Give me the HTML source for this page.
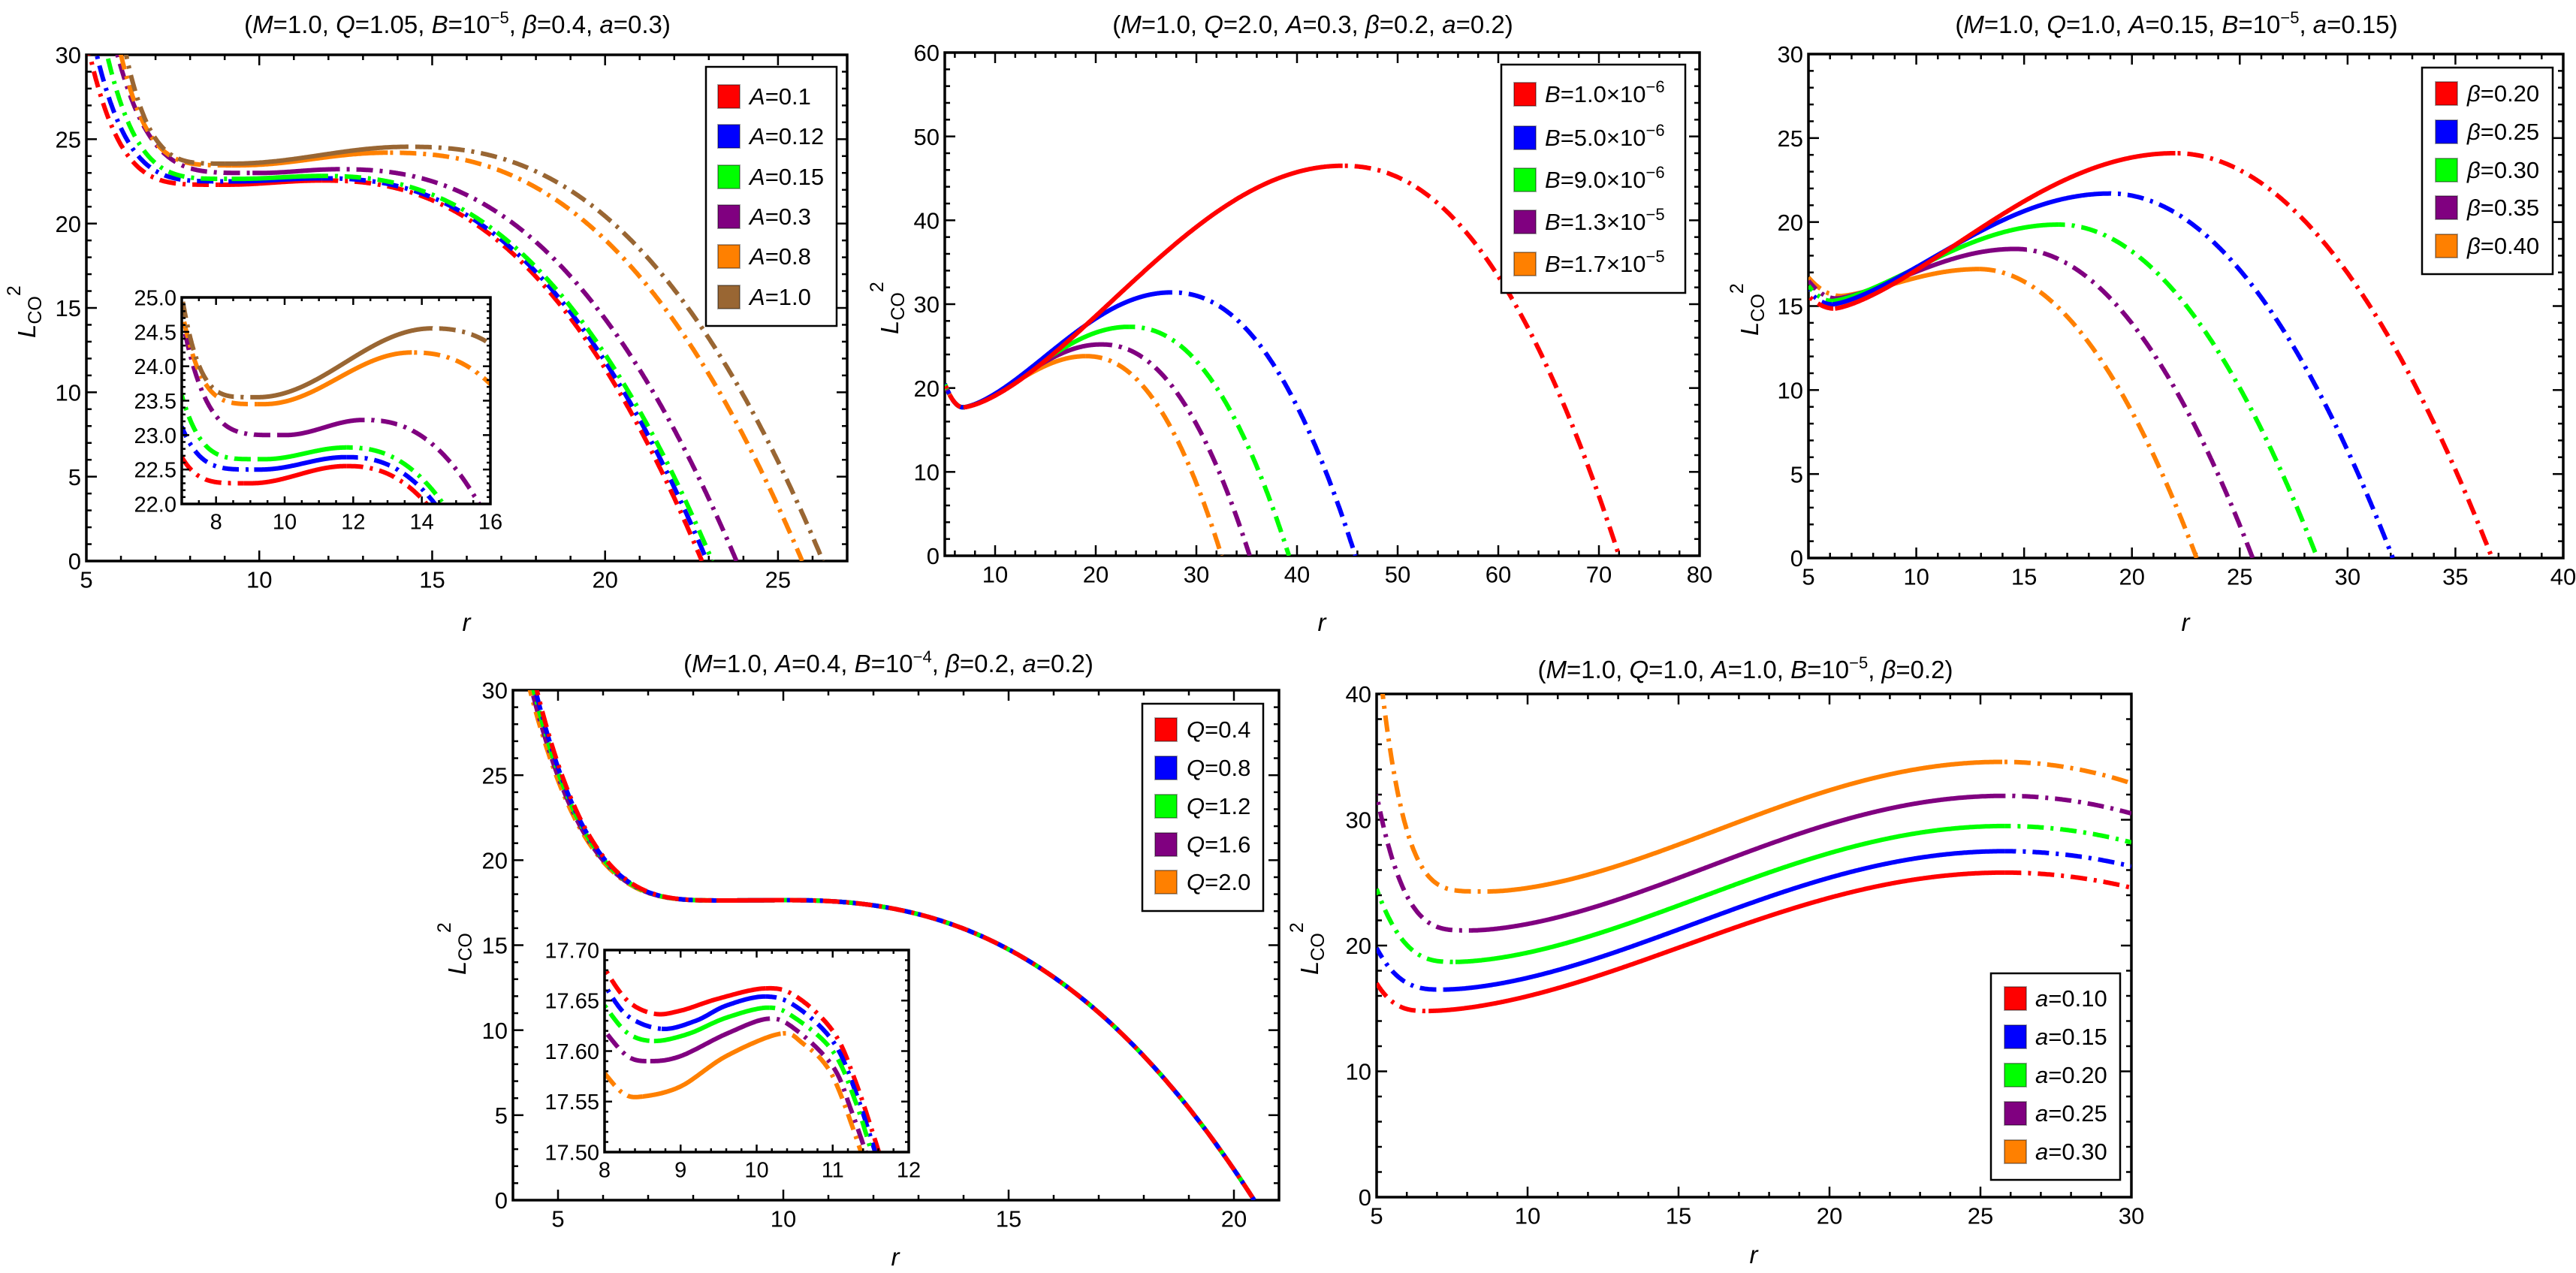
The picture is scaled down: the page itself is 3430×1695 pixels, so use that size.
<!DOCTYPE html>
<html><head><meta charset="utf-8">
<style>
html,body{margin:0;padding:0;background:#fff;}
svg{display:block;font-family:"Liberation Sans",sans-serif;}
.t{font-size:31px;}
.tt{font-size:33px;}
.lg{font-size:31px;}
.i{font-style:italic;}
</style></head>
<body>
<svg id="s" xmlns="http://www.w3.org/2000/svg" width="3430" height="1695" viewBox="0 0 3430 1695">
<rect width="3430" height="1695" fill="#fff"/>
<g id="plots"></g>
<!-- titles -->
<text class="tt" x="609" y="44" text-anchor="middle">(<tspan class="i">M</tspan>=1.0, <tspan class="i">Q</tspan>=1.05, <tspan class="i">B</tspan>=10<tspan dy="-13" font-size="22">−5</tspan><tspan dy="13">, </tspan><tspan class="i">β</tspan>=0.4, <tspan class="i">a</tspan>=0.3)</text>
<text class="tt" x="1748" y="44" text-anchor="middle">(<tspan class="i">M</tspan>=1.0, <tspan class="i">Q</tspan>=2.0, <tspan class="i">A</tspan>=0.3, <tspan class="i">β</tspan>=0.2, <tspan class="i">a</tspan>=0.2)</text>
<text class="tt" x="2898" y="44" text-anchor="middle">(<tspan class="i">M</tspan>=1.0, <tspan class="i">Q</tspan>=1.0, <tspan class="i">A</tspan>=0.15, <tspan class="i">B</tspan>=10<tspan dy="-13" font-size="22">−5</tspan><tspan dy="13">, </tspan><tspan class="i">a</tspan>=0.15)</text>
<text class="tt" x="1183" y="895" text-anchor="middle">(<tspan class="i">M</tspan>=1.0, <tspan class="i">A</tspan>=0.4, <tspan class="i">B</tspan>=10<tspan dy="-13" font-size="22">−4</tspan><tspan dy="13">, </tspan><tspan class="i">β</tspan>=0.2, <tspan class="i">a</tspan>=0.2)</text>
<text class="tt" x="2324" y="903" text-anchor="middle">(<tspan class="i">M</tspan>=1.0, <tspan class="i">Q</tspan>=1.0, <tspan class="i">A</tspan>=1.0, <tspan class="i">B</tspan>=10<tspan dy="-13" font-size="22">−5</tspan><tspan dy="13">, </tspan><tspan class="i">β</tspan>=0.2)</text>
<!-- r labels -->
<text class="tt i" x="621" y="840" text-anchor="middle">r</text>
<text class="tt i" x="1760" y="840" text-anchor="middle">r</text>
<text class="tt i" x="2910" y="840" text-anchor="middle">r</text>
<text class="tt i" x="1192" y="1685" text-anchor="middle">r</text>
<text class="tt i" x="2335" y="1682" text-anchor="middle">r</text>
<!-- y labels -->
<text class="tt" transform="translate(47,450) rotate(-90)"><tspan class="i">L</tspan><tspan dy="8" font-size="25">CO</tspan><tspan dy="-28" font-size="25">2</tspan></text>
<text class="tt" transform="translate(1196,445) rotate(-90)"><tspan class="i">L</tspan><tspan dy="8" font-size="25">CO</tspan><tspan dy="-28" font-size="25">2</tspan></text>
<text class="tt" transform="translate(2341,447) rotate(-90)"><tspan class="i">L</tspan><tspan dy="8" font-size="25">CO</tspan><tspan dy="-28" font-size="25">2</tspan></text>
<text class="tt" transform="translate(620,1298) rotate(-90)"><tspan class="i">L</tspan><tspan dy="8" font-size="25">CO</tspan><tspan dy="-28" font-size="25">2</tspan></text>
<text class="tt" transform="translate(1755,1298) rotate(-90)"><tspan class="i">L</tspan><tspan dy="8" font-size="25">CO</tspan><tspan dy="-28" font-size="25">2</tspan></text>
<g id="legends"></g>
</svg>
<script>
const NS='http://www.w3.org/2000/svg';
const S=document.getElementById('plots');
function el(t,a,p){const e=document.createElementNS(NS,t);for(const k in a)e.setAttribute(k,a[k]);(p||S).appendChild(e);return e;}
const C={r:'#ff0000',b:'#0000ff',g:'#00ff00',p:'#800080',o:'#ff8000',w:'#996633'};
let clipN=0;
function mk(box,xr,yr){return{X:x=>box.x0+(x-xr[0])/(xr[1]-xr[0])*(box.x1-box.x0),Y:y=>box.y1-(y-yr[0])/(yr[1]-yr[0])*(box.y1-box.y0)};}
function frame(box,xr,yr,xmaj,xmi,ymaj,ymi,xl,yl,fs,ML,ml){
  const m=mk(box,xr,yr);
  el('rect',{x:box.x0,y:box.y0,width:box.x1-box.x0,height:box.y1-box.y0,fill:'none',stroke:'#000','stroke-width':3.5});
  let st=Math.ceil(xr[0]/xmi-1e-9);
  for(let n=st;n*xmi<=xr[1]+1e-9;n++){const v=n*xmi;const maj=Math.abs(v/xmaj-Math.round(v/xmaj))<1e-6;const L=maj?ML:ml;const x=m.X(v);
    el('line',{x1:x,x2:x,y1:box.y1,y2:box.y1-L,stroke:'#000','stroke-width':2.5});
    el('line',{x1:x,x2:x,y1:box.y0,y2:box.y0+L,stroke:'#000','stroke-width':2.5});}
  st=Math.ceil(yr[0]/ymi-1e-9);
  for(let n=st;n*ymi<=yr[1]+1e-9;n++){const v=n*ymi;const maj=Math.abs(v/ymaj-Math.round(v/ymaj))<1e-6;const L=maj?ML:ml;const y=m.Y(v);
    el('line',{x1:box.x0,x2:box.x0+L,y1:y,y2:y,stroke:'#000','stroke-width':2.5});
    el('line',{x1:box.x1,x2:box.x1-L,y1:y,y2:y,stroke:'#000','stroke-width':2.5});}
  xl.forEach(([v,s])=>{const t=el('text',{x:m.X(v),y:box.y1+fs*1.15,'text-anchor':'middle','font-size':fs});t.textContent=s;});
  yl.forEach(([v,s])=>{const t=el('text',{x:box.x0-7,y:m.Y(v)+fs*0.36,'text-anchor':'end','font-size':fs});t.textContent=s;});
  return m;
}
function clip(box){const id='c'+(clipN++);const cp=el('clipPath',{id});el('rect',{x:box.x0,y:box.y0,width:box.x1-box.x0,height:box.y1-box.y0},cp);return el('g',{'clip-path':'url(#'+id+')'});}
function gf(d,x){
  if(x<=d.xmin){const f=(d.xmin-x)/(d.xmin-d.xs);return d.ymin+(d.ys-d.ymin)*Math.pow(f,d.k);}
  if(x<=d.xpk){const u=(x-d.xmin)/(d.xpk-d.xmin);return d.ymin+(d.ypk-d.ymin)*Math.pow(Math.sin(Math.PI/2*u),d.q||2);}
  const t=(x-d.xpk)/(d.xe-d.xpk);return d.ypk-(d.ypk-(d.ye||0))*Math.pow(t,d.p);
}
function sampleG(d,xr){const pts=[];const x0=Math.max(xr[0],d.xs-1),x1=Math.min(xr[1],d.xe);const N=900;for(let i=0;i<=N;i++){const x=x0+(x1-x0)*i/N;pts.push([x,gf(d,x)]);}return pts;}
function sampleCR(P){const pts=[];for(let i=0;i<P.length-1;i++){const p0=P[Math.max(0,i-1)],p1=P[i],p2=P[i+1],p3=P[Math.min(P.length-1,i+2)];
  for(let j=0;j<30;j++){const t=j/30,t2=t*t,t3=t2*t;const f=(a,b,c,e)=>0.5*((2*b)+(-a+c)*t+(2*a-5*b+4*c-e)*t2+(-a+3*b-3*c+e)*t3);pts.push([f(p0[0],p1[0],p2[0],p3[0]),f(p0[1],p1[1],p2[1],p3[1])]);}}
  pts.push(P[P.length-1]);return pts;}
function draw(g,m,pts,col,a,b,sw,off){
  const segs=[];let cur=null,cs=null;
  pts.forEach(p=>{const s=(p[0]>=a&&p[0]<=b);if(cs!==s){if(cur){cur.pts.push(p);}cur={s,pts:cur?[cur.pts[cur.pts.length-1]]:[]};segs.push(cur);cs=s;}cur.pts.push(p);});
  segs.forEach(sg=>{if(sg.pts.length<2)return;const d='M'+sg.pts.map(p=>m.X(p[0]).toFixed(1)+','+m.Y(p[1]).toFixed(1)).join('L');
    const at={d,fill:'none',stroke:col,'stroke-width':sw||6,'stroke-linejoin':'round'};
    if(!sg.s){at['stroke-dasharray']='22 9 4 9';at['stroke-dashoffset']=off||0;}el('path',at,g);});
}
function legend(box,rows,sx,tx){
  const L=document.getElementById('legends');
  el('rect',{x:box.x,y:box.y,width:box.w,height:box.h,fill:'#fff',stroke:'#000','stroke-width':2.5},L);
  rows.forEach(([y,c,html])=>{el('rect',{x:sx,y:y-15,width:29,height:31,fill:c,stroke:'rgba(0,0,0,0.35)','stroke-width':2},L);
    const t=el('text',{x:tx,y:y+11,'font-size':31},L);t.innerHTML=html;});
}
const R=(a,b,s)=>{const o=[];for(let v=a;v<=b+1e-9;v+=s)o.push([v,String(Math.round(v*1000)/1000)]);return o;};

/* Panel 1 */
(function(){
 const box={x0:115,x1:1128,y0:73,y1:747},xr=[5,27],yr=[0,30];
 const cs=[
  {c:C.r,xs:5.1,ys:30,k:4.5,xmin:9,ymin:22.3,xpk:11.8,ypk:22.55,xe:22.8,p:2.4},
  {c:C.b,xs:5.3,ys:30,k:4.5,xmin:9.3,ymin:22.5,xpk:11.8,ypk:22.68,xe:22.95,p:2.4},
  {c:C.g,xs:5.6,ys:30,k:4.5,xmin:9.4,ymin:22.65,xpk:11.8,ypk:22.82,xe:23.1,p:2.4},
  {c:C.p,xs:5.9,ys:30,k:4.5,xmin:10,ymin:23.0,xpk:12.3,ypk:23.22,xe:23.8,p:2.4},
  {c:C.o,xs:6.0,ys:30,k:4.5,xmin:9.4,ymin:23.45,xpk:13.7,ypk:24.2,xe:25.7,p:2.4},
  {c:C.w,xs:6.15,ys:30,k:4.5,xmin:9.2,ymin:23.55,xpk:14.3,ypk:24.55,xe:26.3,p:2.4}];
 const m=frame(box,xr,yr,5,1,5,1,R(5,25,5),R(0,30,5),31,14,7);
 const g=clip(box);cs.forEach((d,i)=>draw(g,m,sampleG(d,xr),d.c,d.xmin-0.2,d.xpk,6,i*7));
 const ib={x0:242,x1:653,y0:396,y1:671},ixr=[7,16],iyr=[22,25];
 el('rect',{x:ib.x0-75,y:ib.y0-10,width:ib.x1-ib.x0+95,height:ib.y1-ib.y0+55,fill:'#fff'});
 const im=mk(ib,ixr,iyr);const ig=clip(ib);
 cs.forEach((d,i)=>draw(ig,im,sampleG(d,ixr),d.c,d.xmin-0.2,d.xpk,6,i*7));
 frame(ib,ixr,iyr,2,0.5,0.5,0.1,R(8,16,2),[[22,'22.0'],[22.5,'22.5'],[23,'23.0'],[23.5,'23.5'],[24,'24.0'],[24.5,'24.5'],[25,'25.0']],29,10,5);
 legend({x:940,y:89,w:174,h:345},[[128,C.r,'<tspan font-style="italic">A</tspan>=0.1'],[181,C.b,'<tspan font-style="italic">A</tspan>=0.12'],[235,C.g,'<tspan font-style="italic">A</tspan>=0.15'],[288,C.p,'<tspan font-style="italic">A</tspan>=0.3'],[341,C.o,'<tspan font-style="italic">A</tspan>=0.8'],[395,C.w,'<tspan font-style="italic">A</tspan>=1.0']],956,998);
})();
/* Panel 3 (B) */
(function(){
 const box={x0:1258,x1:2263,y0:70,y1:740},xr=[5,80],yr=[0,60];
 const base={xs:5,ys:20.5,k:2,xmin:6.8,ymin:17.7,p:2.2,q:1.5};
 const cs=[[C.o,19,23.8,32.5],[C.p,20.5,25.2,35.3],[C.g,23.3,27.3,39.2],[C.b,27.5,31.4,45.8],[C.r,44.5,46.5,72]].map(a=>Object.assign({},base,{c:a[0],xpk:a[1],ypk:a[2],xe:a[3]}));
 const m=frame(box,xr,yr,10,2,10,2,R(10,80,10),R(0,60,10),31,14,7);
 const g=clip(box);cs.forEach((d,i)=>draw(g,m,sampleG(d,xr),d.c,d.xmin,d.xpk,6,i*7));
 legend({x:1999,y:86,w:245,h:304},[[125,C.r,'<tspan font-style="italic">B</tspan>=1.0×10<tspan dy="-13" font-size="22">−6</tspan>'],[183,C.b,'<tspan font-style="italic">B</tspan>=5.0×10<tspan dy="-13" font-size="22">−6</tspan>'],[239,C.g,'<tspan font-style="italic">B</tspan>=9.0×10<tspan dy="-13" font-size="22">−6</tspan>'],[295,C.p,'<tspan font-style="italic">B</tspan>=1.3×10<tspan dy="-13" font-size="22">−5</tspan>'],[351,C.o,'<tspan font-style="italic">B</tspan>=1.7×10<tspan dy="-13" font-size="22">−5</tspan>']],2016,2057);
})();
/* Panel 4 (beta) */
(function(){
 const box={x0:2408,x1:3413,y0:72,y1:743},xr=[5,40],yr=[0,30];
 const cs=[
  {c:C.o,xs:5,ys:16.7,k:2,xmin:6.5,ymin:15.6,xpk:12.9,ypk:17.2,xe:23.0,p:2,q:1.4},
  {c:C.p,xs:5,ys:16.5,k:2,xmin:6.3,ymin:15.45,xpk:14.6,ypk:18.4,xe:25.6,p:2,q:1.4},
  {c:C.g,xs:5,ys:16.2,k:2,xmin:6.1,ymin:15.3,xpk:16.6,ypk:19.85,xe:28.6,p:2,q:1.4},
  {c:C.b,xs:5,ys:15.9,k:2,xmin:6.1,ymin:15.1,xpk:19,ypk:21.7,xe:32.1,p:2,q:1.4},
  {c:C.r,xs:5,ys:15.6,k:2,xmin:6.2,ymin:14.85,xpk:22,ypk:24.1,xe:36.7,p:2,q:1.4}];
 const m=frame(box,xr,yr,5,1,5,1,R(5,40,5),R(0,30,5),31,14,7);
 const g=clip(box);cs.forEach((d,i)=>draw(g,m,sampleG(d,xr),d.c,d.xmin,d.xpk,6,i*7));
 const b=t=>'<tspan font-style="italic">β</tspan>='+t;
 legend({x:3225,y:90,w:174,h:275},[[124,C.r,b('0.20')],[175,C.b,b('0.25')],[226,C.g,b('0.30')],[276,C.p,b('0.35')],[327,C.o,b('0.40')]],3243,3285);
})();
/* Panel 2 (Q) */
(function(){
 const box={x0:683,x1:1703,y0:919,y1:1598},xr=[4,21],yr=[0,30];
 const m=frame(box,xr,yr,5,1,5,1,R(5,20,5),R(0,30,5),31,14,7);
 const g=clip(box);
 [[C.o,4.38],[C.p,4.42],[C.g,4.46],[C.b,4.5],[C.r,4.53]].forEach((a,i)=>{
   const d={xs:a[1],ys:30,k:3.7,xmin:8.8,ymin:17.63,xpk:10,ypk:17.65,xe:20.45,p:2.45};
   draw(g,m,sampleG(d,xr),a[0],8.5,10,6,i*9);});
 const ib={x0:805,x1:1210,y0:1265,y1:1534},ixr=[8,12],iyr=[17.5,17.7];
 el('rect',{x:ib.x0-95,y:ib.y0-20,width:ib.x1-ib.x0+125,height:ib.y1-ib.y0+62,fill:'#fff'});
 const im=mk(ib,ixr,iyr);const ig=clip(ib);
 const ic=[
  [C.r,[[7.9,17.70],[8,17.682],[8.3,17.65],[8.65,17.637],[9,17.64],[9.5,17.652],[10.1,17.662],[10.5,17.655],[11,17.62],[11.3,17.57],[11.65,17.49]],8.65,10.1],
  [C.b,[[7.9,17.675],[8,17.665],[8.3,17.635],[8.75,17.622],[9.2,17.63],[9.6,17.645],[10.1,17.654],[10.5,17.645],[11,17.61],[11.3,17.56],[11.6,17.49]],8.75,10.1],
  [C.g,[[7.9,17.655],[8,17.645],[8.3,17.618],[8.65,17.61],[9.1,17.617],[9.6,17.633],[10.15,17.643],[10.5,17.633],[11,17.6],[11.3,17.55],[11.55,17.49]],8.65,10.15],
  [C.p,[[7.9,17.63],[8,17.62],[8.3,17.595],[8.6,17.59],[9,17.595],[9.6,17.617],[10.15,17.632],[10.5,17.622],[11,17.585],[11.25,17.54],[11.48,17.49]],8.6,10.15],
  [C.o,[[7.9,17.588],[8,17.578],[8.25,17.558],[8.5,17.555],[9,17.565],[9.6,17.595],[10.3,17.617],[10.6,17.608],[11,17.575],[11.42,17.49]],8.5,10.3]];
 ic.forEach((a,i)=>draw(ig,im,sampleCR(a[1]),a[0],a[2],a[3],6,i*7));
 frame(ib,ixr,iyr,1,0.2,0.05,0.01,R(8,12,1),[[17.5,'17.50'],[17.55,'17.55'],[17.6,'17.60'],[17.65,'17.65'],[17.7,'17.70']],29,10,5);
 const q=t=>'<tspan font-style="italic">Q</tspan>='+t;
 legend({x:1521,y:937,w:161,h:276},[[971,C.r,q('0.4')],[1022,C.b,q('0.8')],[1073,C.g,q('1.2')],[1124,C.p,q('1.6')],[1174,C.o,q('2.0')]],1538,1580);
})();
/* Panel 5 (a) */
(function(){
 const box={x0:1833,x1:2838,y0:924,y1:1594},xr=[5,30],yr=[0,40];
 const cs=[
  {c:C.r,xs:5,ys:17,k:3,xmin:6.7,ymin:14.8,xpk:25.8,ypk:25.8,xe:30,ye:24.6,p:2,q:1.7},
  {c:C.b,xs:5,ys:19.8,k:3,xmin:7.2,ymin:16.5,xpk:25.8,ypk:27.5,xe:30,ye:26.3,p:2,q:1.7},
  {c:C.g,xs:5,ys:24.5,k:3,xmin:7.6,ymin:18.7,xpk:25.8,ypk:29.5,xe:30,ye:28.2,p:2,q:1.7},
  {c:C.p,xs:5,ys:32,k:3.5,xmin:8.1,ymin:21.2,xpk:25.8,ypk:31.9,xe:30,ye:30.5,p:2,q:1.7},
  {c:C.o,xs:5.2,ys:40,k:4.5,xmin:8.7,ymin:24.3,xpk:25.7,ypk:34.6,xe:30,ye:32.9,p:2,q:1.7}];
 const m=frame(box,xr,yr,5,1,10,2,R(5,30,5),R(0,40,10),31,14,7);
 const g=clip(box);cs.forEach((d,i)=>draw(g,m,sampleG(d,xr),d.c,d.xmin,d.xpk,6,i*7));
 const a=t=>'<tspan font-style="italic">a</tspan>='+t;
 legend({x:2651,y:1296,w:172,h:275},[[1329,C.r,a('0.10')],[1380,C.b,a('0.15')],[1431,C.g,a('0.20')],[1482,C.p,a('0.25')],[1533,C.o,a('0.30')]],2669,2710);
})();
</script>
</body></html>
